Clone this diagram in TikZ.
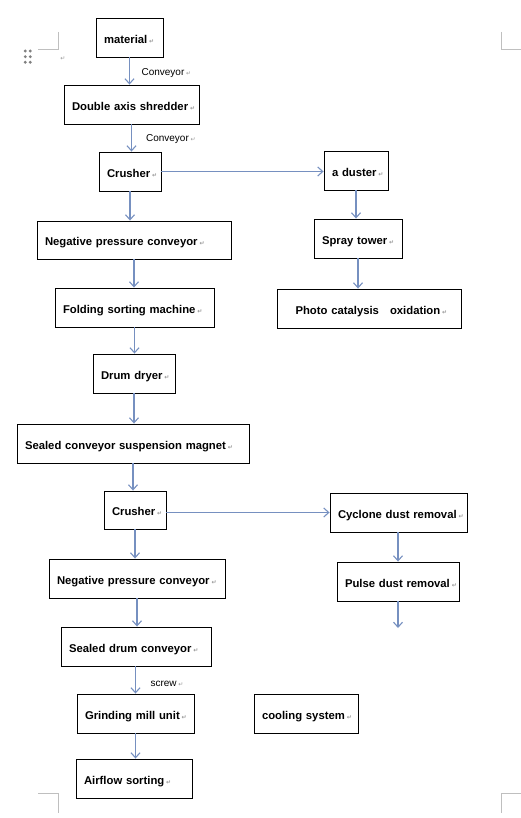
\documentclass[tikz,border=0pt]{standalone}
\usepackage{fontspec}
\setmainfont{Liberation Sans}
\newfontfamily\djv{DejaVu Sans}
\usetikzlibrary{arrows.meta}
\definecolor{arrc}{RGB}{118,144,192}
\definecolor{markc}{RGB}{150,150,150}
\newcommand{\ret}{\,{\djv\fontsize{6}{6}\selectfont\textcolor{markc}{↵}}}
\tikzset{
 box/.style={draw=black, line width=0.9pt, rectangle, align=left, inner xsep=8pt, inner ysep=0pt, text height=11.5pt, text depth=0pt, font=\fontsize{11.3}{13}\selectfont\bfseries},
 arr/.style={draw=arrc, line width=1.1pt, -{Straight Barb[length=5pt,width=9pt]}},
 lbl/.style={font=\fontsize{10}{12}\selectfont, inner sep=0pt, anchor=west, text height=7.5pt, text depth=1.5pt},
 crop/.style={draw=black!25, line width=0.9pt},
 handle/.style={fill=black!50, draw=none, circle, inner sep=0pt, minimum size=3.2pt}
}
\newcommand{\bx}[6]{\node[box, text width=#4pt, minimum height=#5pt] (#1) at (#2,#3) {\mbox{#6\ret}};}
\begin{document}
\begin{tikzpicture}[x=1pt,y=-1pt]
\useasboundingbox (0,0) rectangle (521,818);
% page crop marks
\draw[crop] (58.7,32) -- (58.7,49.3) -- (38,49.3);
\draw[crop] (501.3,32) -- (501.3,49.3) -- (520.7,49.3);
\draw[crop] (38,793.3) -- (58.7,793.3) -- (58.7,813);
\draw[crop] (520.7,793.3) -- (501.7,793.3) -- (501.7,813);
% handle
\foreach \yy [count=\i] in {51,56.7,62.3}{
  \node[handle] (hl\i) at (25.3,\yy) {};
  \node[handle] (hr\i) at (30.3,\yy) {};
}
\node[inner sep=0pt] (pm) at (62,59) {\ret};
% boxes
\bx{mat}{129.5}{37.5}{51}{39}{material}
\bx{das}{131.5}{104.5}{119}{39}{Double axis shredder}
\bx{cra}{130}{171.5}{46}{39}{Crusher}
\bx{dus}{356}{170.5}{48}{39}{a duster}
\bx{spr}{358}{238.5}{72}{39}{Spray tower}
\bx{pho}{369}{308.5}{168}{39}{\hspace{10.5pt}Photo catalysis\hspace{11pt}oxidation}
\bx{npa}{134}{240}{178}{38}{Negative pressure conveyor}
\bx{fol}{134.5}{307.5}{143}{39}{Folding sorting machine}
\bx{dry}{134}{373.5}{66}{39}{Drum dryer}
\bx{sea}{133}{443.5}{216}{39}{Sealed conveyor suspension magnet}
\bx{crb}{135}{510}{46}{38}{Crusher}
\bx{npb}{137}{578.5}{160}{39}{Negative pressure conveyor}
\bx{sdc}{136}{646.5}{134}{39}{Sealed drum conveyor}
\bx{gmu}{135.5}{713.5}{101}{39}{Grinding mill unit}
\bx{air}{134}{778.5}{100}{39}{Airflow sorting}
\bx{cyc}{398.5}{512.5}{121}{39}{Cyclone dust removal}
\bx{pul}{398}{581.5}{106}{39}{Pulse dust removal}
\bx{coo}{306}{713.5}{88}{39}{cooling system}
\coordinate (pend) at (398,628);
% connectors
\draw[arr] (mat.south) -- node[lbl, pos=0.55, xshift=11.5pt] (l1) {Conveyor\ret} (mat.south |- das.north);
\draw[arr] (das.south) -- node[lbl, pos=0.52, xshift=14pt] (l2) {Conveyor\ret} (das.south |- cra.north);
\draw[arr] (cra.south) -- (cra.south |- npa.north);
\draw[arr] (cra.east) -- (cra.east -| dus.west);
\draw[arr] (dus.south) -- (dus.south |- spr.north);
\draw[arr] (spr.south) -- (spr.south |- pho.north);
\draw[arr] (npa.south) -- (npa.south |- fol.north);
\draw[arr] (fol.south) -- (fol.south |- dry.north);
\draw[arr] (dry.south) -- (dry.south |- sea.north);
\draw[arr] (sea.south) -- (sea.south |- crb.north);
\draw[arr] (crb.south) -- (crb.south |- npb.north);
\draw[arr] (cyc.west -| crb.east) -- (cyc.west);
\draw[arr] (npb.south) -- (npb.south |- sdc.north);
\draw[arr] (gmu.north |- sdc.south) -- node[lbl, pos=0.62, xshift=14.5pt] (l3) {screw\ret} (gmu.north);
\draw[arr] (gmu.south) -- (gmu.south |- air.north);
\draw[arr] (cyc.south -| pul.north) -- (pul.north);
\draw[arr] (pul.south) -- (pend);
\end{tikzpicture}
\end{document}
